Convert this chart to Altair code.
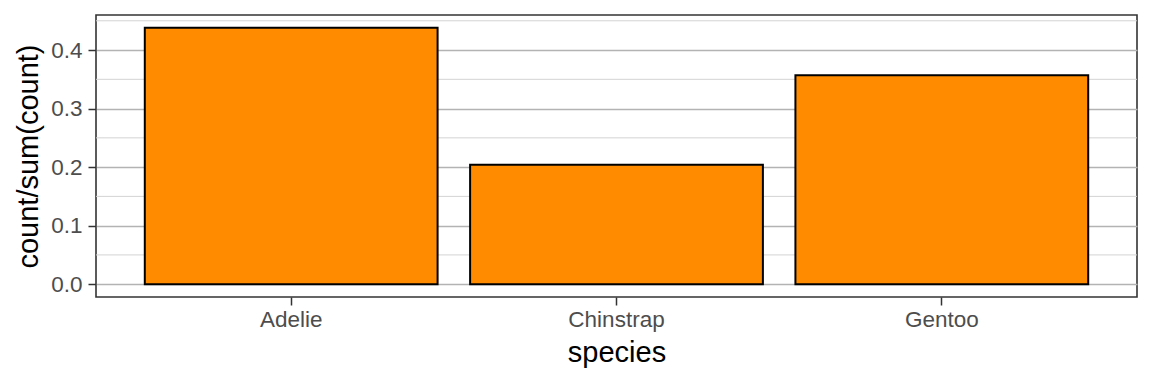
import altair as alt
import pandas as pd

species = ["Adelie", "Chinstrap", "Gentoo"]
proportion = [0.438, 0.204, 0.357]
major_breaks = [0.0, 0.1, 0.2, 0.3, 0.4]
minor_breaks = [0.05, 0.15, 0.25, 0.35, 0.45]

bars_df = pd.DataFrame({"species": species, "prop": proportion})
minor_df = pd.DataFrame({"y": minor_breaks})

FONT = "Liberation Sans"
ydom = [-0.0219, 0.4599]

yscale = alt.Scale(domain=ydom, nice=False, zero=False)
yaxis = alt.Axis(
    values=major_breaks, format=".1f",
    labelFontSize=22.5, labelColor="#4d4d4d", labelFont=FONT,
    titleFontSize=29, titleColor="black", titleFont=FONT, titleFontWeight="normal",
    tickSize=8, tickColor="#333333", tickWidth=1.5, domain=False,
    labelPadding=6, titlePadding=7,
    grid=True, gridColor="#b3b3b3", gridWidth=1.5,
)

minor = alt.Chart(minor_df).mark_rule(color="#d3d3d3", strokeWidth=1).encode(
    y=alt.Y("y:Q", scale=yscale, axis=yaxis, title="count/sum(count)")
)

bars = alt.Chart(bars_df).mark_bar(
    fill="#FF8C00", stroke="black", strokeWidth=2
).encode(
    x=alt.X(
        "species:N",
        title="species",
        scale=alt.Scale(paddingInner=0.1, paddingOuter=0.15),
        axis=alt.Axis(
            labelAngle=0, labelFontSize=22.5, labelColor="#4d4d4d", labelFont=FONT,
            titleFontSize=29, titleColor="black", titleFont=FONT, titleFontWeight="normal",
            tickSize=8, tickColor="#333333", tickWidth=1.5, domain=False,
            labelPadding=3, titlePadding=8, grid=False,
        ),
    ),
    y=alt.Y("prop:Q", title="count/sum(count)", scale=yscale, axis=yaxis),
)

chart = alt.layer(minor, bars).properties(
    width=1041, height=282,
    padding={"left": 88, "top": 7, "right": 7, "bottom": 79},
    autosize=alt.AutoSizeParams(type="none"),
).configure(
    background="white",
    view=alt.ViewConfig(stroke="#333333", strokeWidth=1.6),
)

chart.save("out.html", embed_options={"renderer": "svg", "actions": False})
